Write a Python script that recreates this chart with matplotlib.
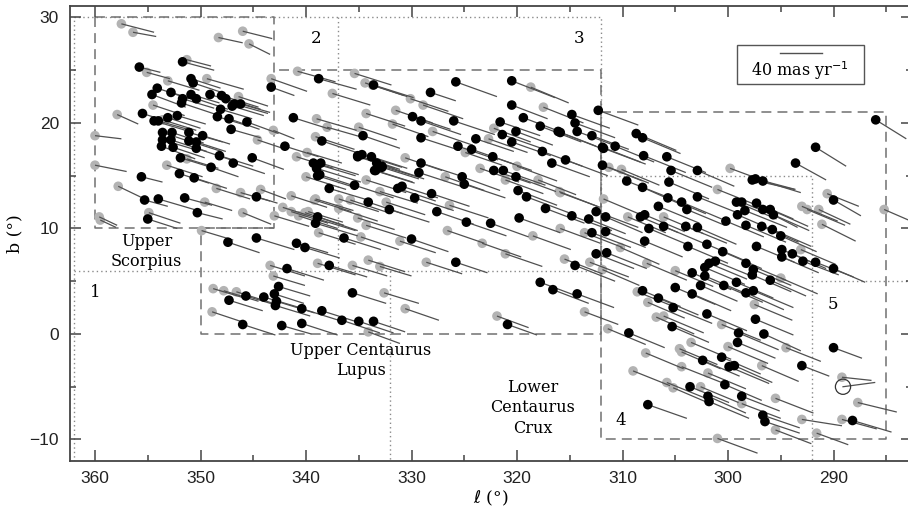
import numpy as np
import matplotlib
matplotlib.use("Agg")
import matplotlib.pyplot as plt
from matplotlib.ticker import MultipleLocator
from matplotlib.patches import Rectangle

# stars: (l, b, mu_l, mu_b) in deg and mas/yr; mu_l < 0 points toward smaller l
us_members = [
    (355.8, 25.3, -20, -5), (351.7, 25.8, -30, -8), (350.9, 24.2, -28, -9),
    (350.7, 23.8, -30, -10), (354.1, 23.3, -30, -10), (354.6, 22.7, -32, -12),
    (352.8, 22.9, -28, -9), (351.7, 22.3, -30, -9), (351.8, 21.9, -33, -11),
    (350.4, 22.3, -30, -10), (350.9, 22.7, -27, -8), (349.1, 22.7, -26, -8),
    (348.0, 22.6, -35, -11), (347.6, 22.3, -33, -10), (347.0, 21.6, -30, -9),
    (346.8, 21.8, -32, -9), (346.2, 21.8, -28, -8), (348.1, 21.3, -30, -9),
    (355.5, 20.9, -22, -7), (354.4, 20.2, -30, -9), (354.0, 20.2, -28, -8),
    (353.1, 20.5, -31, -10), (352.2, 20.7, -27, -8), (348.4, 20.6, -30, -9),
    (347.3, 20.4, -29, -10), (345.6, 20.1, -30, -11), (347.1, 19.4, -28, -8),
    (353.6, 19.1, -33, -11), (352.7, 19.1, -30, -10), (351.1, 19.1, -32, -9),
    (349.8, 18.8, -26, -8), (353.6, 18.4, -30, -9), (352.8, 18.4, -34, -11),
    (351.1, 18.3, -31, -10), (350.4, 18.2, -28, -9), (353.7, 17.8, -32, -12),
    (352.6, 17.7, -30, -10), (350.4, 17.6, -33, -11), (351.9, 16.7, -29, -9),
    (348.2, 16.9, -32, -10), (345.1, 16.7, -30, -11), (349.0, 15.8, -26, -9),
    (346.9, 16.2, -30, -10), (352.0, 15.2, -28, -9), (350.6, 14.8, -31, -10),
    (355.6, 14.9, -20, -5), (355.3, 12.7, -22, -6), (354.0, 12.8, -34, -10),
    (351.5, 12.9, -26, -7), (344.7, 13.0, -20, -6), (350.3, 11.5, -24, -6),
    (355.0, 10.9, -28, -9), (343.3, 23.4, -22, -8),
]
us_field = [
    (357.5, 29.4, -31, -8), (356.4, 28.6, -22, -4), (348.3, 28.1, -23, -5),
    (346.0, 28.7, -28, -7), (345.4, 27.5, -20, -10), (351.3, 26.0, -23, -6),
    (355.1, 24.8, -22, -6), (349.4, 24.2, -35, -10), (353.1, 24.0, -30, -9),
    (354.5, 21.7, -30, -10), (346.4, 22.5, -28, -9), (357.9, 20.8, -20, -9),
    (353.6, 20.3, -32, -10), (360.0, 18.8, -25, -3), (344.6, 18.4, -24, -8),
    (343.1, 19.3, -20, -8), (353.2, 16.0, -34, -11), (351.3, 16.6, -30, -9),
    (360.0, 16.0, -30, -6), (357.8, 14.0, -25, -12), (348.5, 13.8, -32, -10),
    (346.2, 13.4, -28, -8), (344.3, 13.7, -24, -9), (349.6, 12.5, -26, -8),
    (354.9, 11.5, -30, -10), (346.0, 11.5, -27, -11), (359.6, 11.1, -17, -8),
    (359.5, 10.8, -15, -7), (343.3, 24.2, -34, -12),
]
ucl_members = [
    (341.2, 20.5, -35, -11), (338.8, 24.2, -36, -10), (338.5, 18.3, -33, -11),
    (342.0, 17.8, -32, -10), (339.3, 16.2, -40, -12), (338.6, 16.2, -36, -11),
    (339.0, 15.7, -42, -13), (338.9, 15.0, -38, -12), (335.1, 16.8, -35, -11),
    (335.4, 14.1, -37, -12), (337.8, 13.8, -40, -12), (338.9, 11.1, -38, -13),
    (339.1, 10.5, -40, -12), (336.4, 9.1, -35, -11), (340.9, 8.6, -30, -9),
    (344.7, 9.1, -36, -11), (347.4, 8.7, -30, -10), (334.7, 17.0, -38, -12),
    (333.8, 16.8, -34, -11), (333.3, 16.2, -36, -12), (332.8, 15.9, -40, -12),
    (333.4, 15.5, -35, -11), (338.7, 15.1, -37, -12), (334.1, 12.5, -33, -11),
    (332.1, 11.8, -38, -12), (331.3, 13.8, -36, -12), (330.9, 14.0, -34, -11),
    (329.7, 12.9, -37, -12), (330.0, 9.0, -35, -12), (340.1, 8.2, -33, -10),
    (337.8, 6.5, -36, -11), (335.6, 3.9, -32, -10), (340.4, 2.4, -35, -11),
    (338.5, 2.2, -38, -12), (340.4, 1.0, -34, -11), (336.6, 1.3, -36, -12),
    (335.0, 1.2, -33, -11), (333.6, 1.2, -30, -10), (347.3, 3.2, -32, -10),
    (345.7, 3.6, -30, -9), (344.0, 3.5, -34, -10), (343.0, 3.8, -28, -9),
    (342.8, 3.1, -36, -11), (342.9, 2.7, -33, -10), (342.6, 4.5, -30, -9),
    (341.8, 6.2, -35, -11), (346.0, 0.9, -31, -10), (342.3, 0.8, -28, -8),
    (333.6, 23.6, -38, -12), (328.2, 22.9, -24, -8), (325.8, 23.9, -39, -14),
    (320.5, 24.0, -41, -16), (320.5, 21.7, -34, -13), (312.3, 21.2, -38, -14),
    (314.8, 20.8, -36, -13), (314.5, 20.0, -38, -14), (314.3, 19.2, -40, -15),
    (312.9, 18.8, -35, -13), (319.4, 20.5, -37, -14), (317.8, 19.7, -39, -15),
    (316.1, 19.2, -36, -14), (321.6, 20.1, -38, -13), (320.1, 19.2, -35, -13),
    (321.4, 18.9, -40, -14), (320.5, 18.2, -37, -13), (323.9, 18.5, -36, -12),
    (324.3, 17.5, -40, -14), (325.6, 17.8, -38, -13), (326.0, 20.2, -39, -13),
    (329.9, 20.6, -36, -12), (329.1, 20.2, -38, -13), (329.1, 18.6, -37, -12),
    (334.6, 18.8, -35, -12), (317.6, 17.3, -38, -14), (315.4, 16.5, -40, -15),
    (316.7, 16.2, -36, -13), (322.3, 16.8, -37, -13), (321.3, 15.5, -40, -14),
    (322.2, 15.5, -35, -12), (320.1, 14.9, -38, -14), (325.2, 14.9, -36, -13),
    (325.0, 14.2, -39, -13), (329.1, 16.2, -37, -12), (329.3, 15.3, -40, -13),
    (328.1, 13.3, -36, -12), (333.5, 15.5, -38, -12), (332.8, 15.8, -35, -11),
    (335.1, 16.9, -40, -13), (319.9, 13.6, -37, -14), (319.1, 13.0, -40, -15),
    (315.9, 19.1, -36, -14), (327.6, 11.6, -35, -12), (324.8, 10.6, -38, -13),
    (322.5, 10.5, -36, -13), (319.8, 11.0, -39, -14), (317.3, 11.9, -37, -14),
    (314.8, 11.2, -38, -14), (313.2, 10.9, -35, -14), (312.5, 11.6, -40, -15),
    (312.9, 9.6, -37, -14), (312.5, 7.6, -36, -14), (314.5, 6.5, -38, -15),
    (314.3, 3.8, -35, -13), (325.8, 6.8, -30, -10), (317.8, 4.9, -32, -12),
    (316.6, 4.2, -34, -13), (320.9, 0.9, -28, -10),
]
ucl_field = [
    (340.8, 24.9, -36, -10), (339.0, 20.4, -38, -11), (338.0, 19.6, -35, -10),
    (339.1, 18.7, -37, -12), (339.9, 17.2, -33, -10), (340.9, 16.8, -35, -11),
    (340.0, 14.9, -38, -12), (341.4, 13.1, -34, -11), (339.1, 12.8, -36, -11),
    (336.9, 12.8, -38, -12), (341.4, 11.6, -35, -11), (340.7, 11.2, -37, -12),
    (339.8, 11.6, -33, -10), (338.9, 10.9, -36, -11), (338.8, 9.6, -35, -11),
    (349.9, 9.8, -30, -9), (338.9, 6.7, -36, -11), (335.6, 6.5, -33, -10),
    (334.1, 7.0, -35, -11), (333.0, 6.4, -30, -9), (336.9, 11.9, -37, -12),
    (335.1, 11.0, -35, -11), (334.3, 10.3, -38, -12), (334.8, 9.2, -36, -12),
    (331.1, 8.8, -34, -11), (332.4, 12.5, -37, -12), (330.6, 16.7, -35, -12),
    (334.3, 14.6, -38, -12), (333.0, 13.5, -36, -11), (335.8, 12.7, -39, -13),
    (339.2, 12.7, -35, -11), (340.1, 11.5, -37, -12), (332.6, 3.9, -33, -10),
    (330.6, 2.4, -32, -11), (334.1, 0.2, -30, -11), (348.8, 4.3, -30, -9),
    (347.8, 4.1, -33, -10), (346.6, 4.0, -35, -11), (348.9, 2.1, -30, -10),
    (343.4, 6.5, -33, -10), (343.1, 5.5, -30, -9), (335.4, 24.7, -35, -11),
    (334.4, 23.8, -37, -12), (333.7, 23.6, -33, -11), (318.7, 23.4, -36, -15),
    (317.5, 21.5, -38, -15), (322.2, 19.5, -35, -13), (322.7, 18.5, -37, -13),
    (330.1, 22.3, -36, -12), (328.9, 21.7, -38, -13), (331.5, 21.2, -35, -12),
    (334.3, 20.9, -37, -12), (331.8, 19.9, -34, -12), (335.0, 19.6, -36, -12),
    (328.0, 19.2, -38, -13), (316.0, 13.5, -36, -14), (323.5, 15.7, -37, -13),
    (324.9, 17.2, -35, -12), (320.0, 15.9, -38, -14), (321.1, 14.6, -36, -13),
    (326.8, 14.9, -37, -13), (315.9, 13.4, -38, -14), (315.5, 7.1, -36, -14),
    (326.6, 9.8, -35, -12), (323.3, 8.6, -37, -13), (318.5, 9.3, -36, -13),
    (315.9, 10.0, -38, -14), (321.1, 7.6, -35, -12), (313.1, 6.8, -37, -14),
    (328.6, 6.8, -34, -11), (321.9, 1.7, -30, -11), (313.6, 2.1, -32, -12),
    (313.6, 9.6, -36, -14), (343.0, 11.2, -33, -10), (342.2, 12.0, -35, -11),
    (337.5, 22.8, -36, -11), (326.4, 12.2, -37, -12), (318.0, 14.6, -36, -14),
]
lcc_members = [
    (311.9, 17.7, -36, -14), (311.8, 17.6, -40, -15), (311.9, 16.0, -38, -15),
    (310.7, 17.8, -37, -15), (308.7, 19.0, -38, -16), (308.1, 18.6, -36, -15),
    (308.0, 16.9, -40, -16), (309.6, 14.5, -38, -15), (308.1, 13.9, -36, -16),
    (305.8, 16.8, -37, -15), (305.4, 15.5, -39, -16), (302.9, 15.5, -35, -15),
    (293.6, 16.2, -29, -16), (291.7, 17.7, -29, -18), (286.0, 20.3, -29, -18),
    (297.7, 14.6, -40, -9), (297.4, 14.7, -38, -10), (296.7, 14.5, -36, -11),
    (305.6, 14.4, -38, -16), (305.7, 12.9, -36, -15), (302.9, 13.0, -40, -16),
    (304.4, 12.5, -38, -16), (303.9, 11.8, -36, -15), (306.6, 12.1, -39, -16),
    (299.2, 12.5, -38, -16), (298.7, 12.5, -36, -15), (298.4, 11.7, -40, -16),
    (297.3, 12.4, -35, -15), (296.7, 11.8, -33, -17), (296.0, 11.8, -36, -16),
    (295.7, 11.3, -34, -15), (299.1, 11.3, -37, -16), (307.9, 11.3, -38, -16),
    (308.3, 11.1, -36, -15), (311.6, 11.1, -35, -15), (300.2, 10.7, -36, -15),
    (298.3, 10.3, -38, -16), (296.8, 10.2, -35, -15), (295.8, 9.9, -37, -16),
    (295.0, 9.3, -34, -15), (306.1, 10.2, -38, -16), (307.5, 10.0, -36, -15),
    (304.0, 10.2, -39, -16), (302.9, 10.1, -37, -16), (311.6, 9.7, -38, -15),
    (307.9, 8.8, -36, -15), (303.8, 8.3, -38, -16), (302.0, 8.5, -35, -15),
    (300.5, 7.8, -37, -16), (297.3, 8.3, -36, -15), (294.9, 8.0, -33, -14),
    (294.9, 7.3, -35, -15), (293.9, 7.6, -32, -14), (292.9, 6.9, -34, -13),
    (291.7, 6.8, -36, -14), (290.0, 6.2, -30, -13), (290.0, 12.7, -26, -15),
    (311.5, 7.7, -38, -15), (303.4, 5.8, -37, -16), (302.2, 5.5, -35, -15),
    (302.2, 6.3, -38, -16), (301.8, 6.7, -36, -15), (301.2, 6.9, -39, -16),
    (300.4, 4.6, -37, -16), (299.2, 4.9, -35, -15), (298.3, 6.7, -38, -16),
    (297.6, 6.1, -36, -15), (297.7, 5.6, -37, -16), (296.0, 5.1, -34, -15),
    (298.3, 3.9, -36, -16), (297.6, 4.1, -38, -16), (302.6, 4.6, -35, -15),
    (303.4, 3.8, -37, -16), (305.0, 4.4, -38, -16), (308.1, 4.1, -36, -15),
    (306.6, 3.4, -38, -16), (305.2, 2.5, -37, -15), (305.3, 0.7, -35, -15),
    (302.0, 1.9, -38, -16), (297.4, 1.4, -36, -15), (299.0, 0.1, -38, -16),
    (299.1, -0.8, -36, -15), (296.6, 0.0, -35, -16), (290.0, -1.3, -27, -10),
    (309.4, 0.1, -34, -14), (300.6, -2.2, -37, -16), (302.4, -2.5, -35, -15),
    (299.9, -3.1, -38, -16), (299.4, -3.0, -36, -16), (293.0, -3.0, -26, -10),
    (300.3, -4.8, -35, -15), (303.6, -5.0, -37, -15), (301.9, -5.9, -36, -16),
    (301.8, -6.4, -38, -16), (298.7, -5.9, -36, -14), (307.6, -6.7, -37, -13),
    (296.7, -7.7, -35, -12), (296.5, -8.3, -33, -11), (288.2, -8.2, -37, -11),
]
lcc_field = [
    (311.3, 15.8, -38, -15), (310.1, 15.6, -36, -15), (299.8, 15.7, -38, -14),
    (301.0, 13.7, -40, -16), (311.8, 12.8, -38, -16), (309.5, 11.1, -36, -15),
    (306.1, 11.1, -38, -16), (310.2, 8.2, -37, -16), (307.7, 6.7, -38, -16),
    (305.0, 6.0, -36, -15), (311.9, 6.1, -35, -15), (293.1, 8.0, -33, -14),
    (293.0, 12.1, -34, -14), (292.5, 11.8, -36, -15), (291.4, 11.8, -30, -14),
    (291.1, 10.4, -32, -16), (290.6, 13.3, -30, -12), (285.2, 11.8, -30, -13),
    (295.0, 5.3, -35, -15), (308.6, 4.0, -37, -15), (307.6, 3.0, -35, -15),
    (306.8, 1.6, -36, -16), (306.1, 1.7, -38, -16), (300.6, 0.9, -37, -15),
    (297.5, 2.8, -36, -15), (294.5, -1.3, -33, -13), (311.4, 0.5, -36, -15),
    (303.5, -0.8, -38, -16), (304.6, -1.4, -36, -15), (304.4, -1.7, -37, -16),
    (300.0, -1.2, -38, -16), (304.4, -3.1, -38, -15), (301.9, -3.7, -36, -15),
    (296.8, -3.0, -35, -15), (305.8, -4.6, -37, -15), (305.2, -5.1, -35, -15),
    (302.6, -5.0, -36, -15), (298.7, -6.6, -37, -14), (295.5, -6.1, -36, -14),
    (293.0, -8.1, -38, -6), (295.5, -9.1, -34, -13), (289.2, -8.1, -33, -9),
    (291.6, -9.4, -30, -11), (301.0, -9.9, -38, -14), (287.7, -6.5, -37, -9),
    (289.2, -4.1, -28, -3), (307.8, -1.8, -36, -15), (309.0, -3.5, -35, -14),
]
# star drawn as an open circle
open_star = (289.1, -5.0, -30, 4)

# region outlines (l, b)
us_box = [(360, 30), (343, 30), (343, 10), (360, 10), (360, 30)]
ucl_box = [(343, 10), (350, 10), (350, 0), (312, 0), (312, 25), (343, 25)]
lcc_box = [(312, 21), (285, 21), (285, -10), (312, -10), (312, 21)]
dotted_paths = [
    [(362, -12.5), (362, 30), (312, 30), (312, 6)],
    [(337, 30), (337, 6)],
    [(362, 6), (312, 6)],
    [(332, 6), (332, -12.5)],
    [(312, 15), (292, 15), (292, -12.5)],
    [(292, 5), (280, 5)],
]
region_numbers = [("1", 360.0, 3.9), ("2", 339.0, 28.0), ("3", 314.1, 28.0),
                  ("4", 310.2, -8.2), ("5", 290.1, 2.8)]
region_names = [("Upper\nScorpius", 355.1, 7.8),
                ("Upper Centaurus\nLupus", 334.8, -2.5),
                ("Lower\nCentaurus\nCrux", 318.5, -7.0)]

deg_per_mas = 0.1  # 40 mas/yr drawn as 4 degrees
scale_pm = 40

fig = plt.figure(figsize=(9.08, 5.11), dpi=100)
ax = fig.add_axes([70 / 908, 1 - 461 / 511, 842 / 908, 455 / 511])

serif = "DejaVu Serif"
sans = "Liberation Sans"
box_col = "#707070"

for path in dotted_paths:
    p = np.array(path)
    ax.plot(p[:, 0], p[:, 1], color="#8a8a8a", lw=1.0, dashes=(1, 2.2), zorder=1)
for box in (us_box, ucl_box, lcc_box):
    p = np.array(box)
    ax.plot(p[:, 0], p[:, 1], color=box_col, lw=1.1, dashes=(6.5, 4), zorder=1)


def draw_stars(stars, color, z):
    s = np.array(stars, dtype=float)
    for l, b, ml, mb in s:
        ax.plot([l, l + ml * deg_per_mas], [b, b + mb * deg_per_mas],
                color="#505050", lw=0.9, zorder=3, solid_capstyle="butt")
    ax.scatter(s[:, 0], s[:, 1], s=48, color=color, edgecolors="none", zorder=z)


draw_stars(us_field + ucl_field + lcc_field, "#b3b3b3", 2)
draw_stars(us_members + ucl_members + lcc_members, "black", 4)

l0, b0, ml0, mb0 = open_star
ax.plot([l0, l0 + ml0 * deg_per_mas], [b0, b0 + mb0 * deg_per_mas],
        color="#505050", lw=0.9, zorder=3)
ax.scatter([l0], [b0], s=120, facecolors="none", edgecolors="#333333",
           linewidths=0.9, zorder=4)

# proper motion scale
ax.add_patch(Rectangle((299.15, 23.7), -12.05, 3.7, fill=False,
                       edgecolor="#555555", lw=1.0, zorder=5))
ax.plot([295.1, 295.1 - scale_pm * deg_per_mas], [26.6, 26.6],
        color="#505050", lw=1.0, zorder=5)
ax.text(293.2, 25.0, "40 mas yr$^{-1}$", family=serif, fontsize=11.5,
        ha="center", va="center", zorder=5)

for txt, l, b in region_numbers:
    ax.text(l, b, txt, family=serif, fontsize=12, ha="center", va="center")
for txt, l, b in region_names:
    ax.text(l, b, txt, family=serif, fontsize=11.5, ha="center", va="center",
            linespacing=1.25)

ax.set_xlim(362.37, 282.56)
ax.set_ylim(-12.04, 31.09)
ax.xaxis.set_major_locator(MultipleLocator(10))
ax.xaxis.set_minor_locator(MultipleLocator(5))
ax.yaxis.set_major_locator(MultipleLocator(10))
ax.yaxis.set_minor_locator(MultipleLocator(5))
ax.tick_params(which="both", direction="in", top=True, right=True,
               color="#444444", width=1.1, labelsize=12.5, labelcolor="#222222")
ax.tick_params(which="major", length=8)
ax.tick_params(which="minor", length=4.5)
ax.tick_params(axis="x", pad=7)
ax.tick_params(axis="y", pad=8)
for lab in ax.get_xticklabels() + ax.get_yticklabels():
    lab.set_family(sans)
for sp in ax.spines.values():
    sp.set_color("#444444")
    sp.set_linewidth(1.3)

ax.set_xlabel(r"$\ell$ (°)", family=serif, fontsize=12.5, labelpad=2)
ax.set_ylabel("b (°)", family=serif, fontsize=12.5, labelpad=4)

fig.savefig("out.png", dpi=100)
